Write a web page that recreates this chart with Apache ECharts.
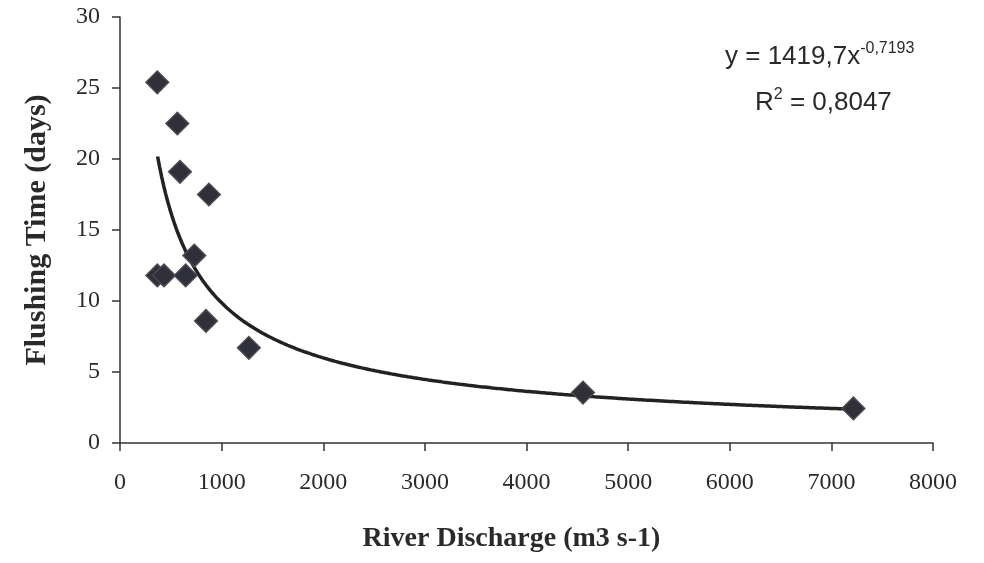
<!DOCTYPE html>
<html>
<head>
<meta charset="utf-8">
<script src="https://cdn.jsdelivr.net/npm/echarts@6/dist/echarts.min.js"></script>
<style>
  html, body { margin: 0; padding: 0; background: #fff; }
  #chart { width: 984px; height: 563px; }
</style>
</head>
<body>
<div id="chart"></div>
<script>
// measured points (river discharge, flushing time)
var discharge = [367, 564, 590, 875, 731, 367, 433, 646, 846, 1268, 4556, 7217];
var flushing  = [25.4, 22.5, 19.1, 17.5, 13.2, 11.8, 11.8, 11.8, 8.6, 6.7, 3.55, 2.43];

// power trend line shown on the chart: y = 1419,7 x^-0,7193
var trendCoef = 1419.7;
var trendExp = -0.7193;
var trendFrom = 370;
var trendTo = 7220;

var xTicks = [0, 1000, 2000, 3000, 4000, 5000, 6000, 7000, 8000];
var yTicks = [0, 5, 10, 15, 20, 25, 30];

var points = discharge.map(function (d, i) { return [d, flushing[i]]; });

var trend = [];
for (var x = trendFrom; x <= trendTo; x += 20) {
    trend.push([x, trendCoef * Math.pow(x, trendExp)]);
}

var chart = echarts.init(document.getElementById('chart'));

var serif = '"Liberation Serif", "Times New Roman", serif';
var sans = '"Liberation Sans", Arial, sans-serif';

chart.setOption({
    animation: false,
    grid: { left: 120, right: 51, top: 17, bottom: 120 },
    xAxis: {
        type: 'value',
        min: xTicks[0],
        max: xTicks[xTicks.length - 1],
        interval: 1000,
        name: 'River Discharge (m3 s-1)',
        nameLocation: 'middle',
        nameGap: 82,
        nameTextStyle: { fontFamily: serif, fontSize: 28, fontWeight: 'bold', color: '#2a2a2a', padding: [0, 30, 0, 0] },
        axisLine: { lineStyle: { color: '#333', width: 1.5 } },
        axisTick: { show: true, length: 8, lineStyle: { color: '#333', width: 1.5 } },
        axisLabel: {
            fontFamily: serif, fontSize: 24, color: '#2a2a2a', margin: 28,
            formatter: function (v) { return String(v); }
        },
        splitLine: { show: false }
    },
    yAxis: {
        type: 'value',
        min: yTicks[0],
        max: yTicks[yTicks.length - 1],
        interval: 5,
        name: 'Flushing Time (days)',
        nameLocation: 'middle',
        nameGap: 68,
        nameTextStyle: { fontFamily: serif, fontSize: 30, fontWeight: 'bold', color: '#2a2a2a' },
        axisLine: { show: true, lineStyle: { color: '#333', width: 1.5 } },
        axisTick: { show: true, length: 8, lineStyle: { color: '#333', width: 1.5 } },
        axisLabel: { fontFamily: serif, fontSize: 24, color: '#2a2a2a', margin: 20 },
        splitLine: { show: false }
    },
    graphic: [{
        type: 'text',
        left: 725,
        top: 41,
        style: {
            text: '{b|y = 1419,7x}{s|-0,7193}',
            rich: {
                b: { fontFamily: sans, fontSize: 26, fill: '#2a2a2a' },
                s: { fontFamily: sans, fontSize: 16, fill: '#2a2a2a', verticalAlign: 'top', padding: [0, 0, 16, 0] }
            }
        }
    }, {
        type: 'text',
        left: 755,
        top: 87,
        style: {
            text: '{b|R}{s|2}{b| = 0,8047}',
            rich: {
                b: { fontFamily: sans, fontSize: 26, fill: '#2a2a2a' },
                s: { fontFamily: sans, fontSize: 16, fill: '#2a2a2a', verticalAlign: 'top', padding: [0, 0, 16, 0] }
            }
        }
    }],
    series: [{
        type: 'line',
        data: trend,
        showSymbol: false,
        smooth: false,
        lineStyle: { color: '#222', width: 3.5 },
        z: 2
    }, {
        type: 'scatter',
        data: points,
        symbol: 'rect',
        symbolSize: 16,
        symbolRotate: 45,
        itemStyle: { color: '#30303a', borderColor: '#4a4a54', borderWidth: 1.5, opacity: 1 },
        z: 3
    }]
});
</script>
</body>
</html>
